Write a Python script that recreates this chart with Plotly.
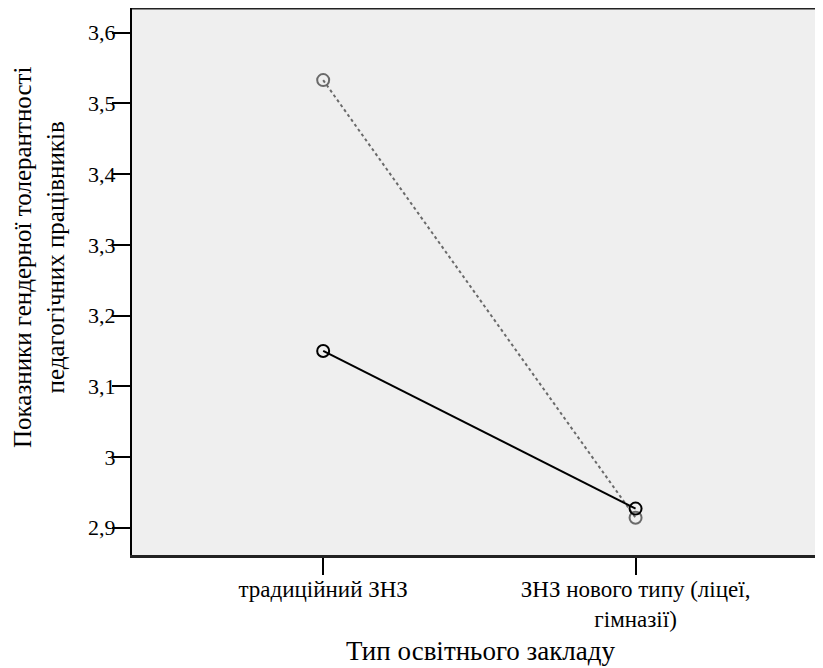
import plotly.graph_objects as go

categories = ["традиційний ЗНЗ", "ЗНЗ нового типу (ліцеї,<br>гімназії)"]
series_grey = [3.533, 2.914]
series_black = [3.150, 2.927]
y_ticks = [2.9, 3.0, 3.1, 3.2, 3.3, 3.4, 3.5, 3.6]
y_tick_labels = ["2,9", "3", "3,1", "3,2", "3,3", "3,4", "3,5", "3,6"]

xpos = list(range(len(categories)))
FONT = "'Liberation Serif', 'Times New Roman', serif"

fig = go.Figure()
fig.add_trace(go.Scatter(
    x=xpos, y=series_grey, mode="lines+markers",
    line=dict(color="#6a6a6a", width=2, dash="dot"),
    marker=dict(symbol="circle-open", size=12, color="#6a6a6a", line=dict(width=2, color="#6a6a6a")),
    showlegend=False, hoverinfo="y"))
fig.add_trace(go.Scatter(
    x=xpos, y=series_black, mode="lines+markers",
    line=dict(color="black", width=2),
    marker=dict(symbol="circle-open", size=12, color="black", line=dict(width=2, color="black")),
    showlegend=False, hoverinfo="y"))

fig.update_layout(
    width=815, height=660,
    margin=dict(l=124, r=0, t=0, b=113, autoexpand=False),
    paper_bgcolor="white", plot_bgcolor="#efefef",
    font=dict(family=FONT, color="black"),
    xaxis=dict(
        range=[-0.612, 1.6], tickmode="array", tickvals=xpos, ticktext=categories,
        ticks="outside", ticklen=17, tickwidth=2, tickcolor="black",
        showgrid=False, zeroline=False, showline=True, linecolor="#222", linewidth=3,
        tickfont=dict(family="Times New Roman, serif", size=23, color="black"),
        ticklabelstandoff=-6, automargin=False),
    yaxis=dict(
        range=[2.8614, 3.635], tickmode="array", tickvals=y_ticks, ticktext=y_tick_labels,
        ticks="outside", ticklen=18, tickwidth=2, tickcolor="black",
        showgrid=False, zeroline=False, showline=True, linecolor="black", linewidth=2,
        tickfont=dict(family="serif", size=22, color="black"),
        ticklabelstandoff=-8, automargin=False),
    shapes=[dict(type="line", xref="paper", yref="paper", x0=0, x1=1, y0=1, y1=1,
                 line=dict(color="#222", width=3))],
    annotations=[
        dict(text="Тип освітнього закладу", xref="paper", yref="paper",
             x=0.505, y=0, yshift=-96, xanchor="center", yanchor="middle",
             showarrow=False, font=dict(family=FONT, size=27, color="black")),
        dict(text="Показники гендерної толерантності<br>педагогічних працівників",
             xref="paper", yref="paper", x=0, xshift=-93, y=0.543,
             xanchor="center", yanchor="middle", textangle=-90,
             showarrow=False, font=dict(family=FONT, size=25, color="black")),
    ],
)

fig.write_html("out.html")
